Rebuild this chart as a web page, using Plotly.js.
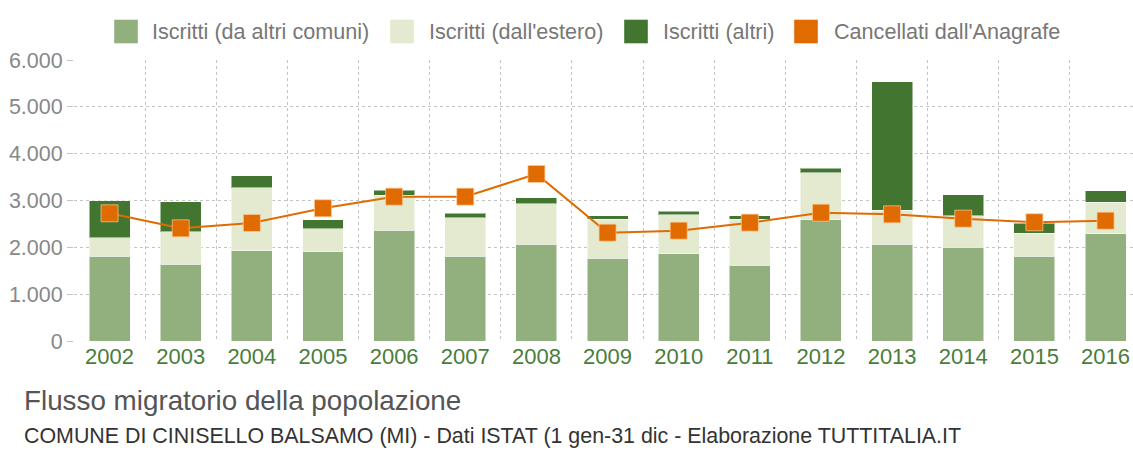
<!DOCTYPE html>
<html>
<head>
<meta charset="utf-8">
<script src="https://cdn.plot.ly/plotly-3.0.1.min.js"></script>
<style>
  html, body { margin: 0; padding: 0; background: #fff; }
  #chart { width: 1133px; height: 450px; }
</style>
</head>
<body>
<div id="chart"></div>
<script>
// ---- data ----
var years = ["2002","2003","2004","2005","2006","2007","2008","2009","2010","2011","2012","2013","2014","2015","2016"];
var iscrittiComuni = [1815,1644,1929,1907,2370,1815,2071,1765,1865,1616,2584,2071,2007,1815,2285];
var iscrittiEstero = [391,690,1345,485,741,818,861,834,826,989,1010,726,669,491,677];
var iscrittiAltri  = [790,641,256,192,113,94,122,77,79,71,94,2740,442,207,247];
var cancellati     = [2727,2406,2520,2834,3082,3082,3566,2313,2356,2527,2740,2705,2612,2535,2569];

var legendLabels = ["Iscritti (da altri comuni)","Iscritti (dall'estero)","Iscritti (altri)","Cancellati dall'Anagrafe"];
var colors = ["#91b07d","#e3eacf","#427630","#e06b00"];

var titleText = "Flusso migratorio della popolazione";
var subtitleText = "COMUNE DI CINISELLO BALSAMO (MI) - Dati ISTAT (1 gen-31 dic - Elaborazione TUTTITALIA.IT";

// ---- layout geometry ----
var W = 1133, H = 450;
var mL = 74, mT = 60, mB = 109, mR = 0;
var plotW = W - mL - mR, plotH = H - mT - mB;
function px(x) { return (x - mL) / plotW; }
function py(y) { return (H - mB - y) / plotH; }

var font = "Liberation Sans, Arial, Helvetica, sans-serif";

var barLine = { color: "rgba(255,255,255,0.5)", width: 1 };
var traces = [
  { type: "bar", x: years, y: iscrittiComuni, name: legendLabels[0], marker: { color: colors[0], line: barLine } },
  { type: "bar", x: years, y: iscrittiEstero, name: legendLabels[1], marker: { color: colors[1], line: barLine } },
  { type: "bar", x: years, y: iscrittiAltri,  name: legendLabels[2], marker: { color: colors[2], line: barLine } },
  { type: "scatter", mode: "lines+markers", x: years, y: cancellati, name: legendLabels[3],
    line: { color: colors[3], width: 2 },
    marker: { symbol: "square", size: 17, color: colors[3], line: { color: "rgba(255,200,150,0.7)", width: 1 } } }
];

// custom legend
var swX = [114, 390, 624, 794];
var txX = [150, 427, 661, 832];
var shapes = [], annotations = [];
for (var i = 0; i < 4; i++) {
  shapes.push({ type: "rect", xref: "paper", yref: "paper",
    x0: px(swX[i]), x1: px(swX[i] + 24), y0: py(43.5), y1: py(19.5),
    fillcolor: colors[i], line: { color: "rgba(255,255,255,0.4)", width: 1 } });
  annotations.push({ xref: "paper", yref: "paper", x: px(txX[i]), y: py(31.5),
    xanchor: "left", yanchor: "middle", showarrow: false, text: legendLabels[i],
    font: { family: font, size: 21.6, color: "#777" } });
}
annotations.push({ xref: "paper", yref: "paper", x: px(22), y: py(400), xanchor: "left", yanchor: "middle",
  showarrow: false, text: titleText, font: { family: font, size: 27.8, color: "#555" } });
annotations.push({ xref: "paper", yref: "paper", x: px(22), y: py(436), xanchor: "left", yanchor: "middle",
  showarrow: false, text: subtitleText, font: { family: font, size: 21.4, color: "#333" } });

var layout = {
  width: W, height: H,
  margin: { l: mL, r: mR, t: mT, b: mB, pad: 0 },
  paper_bgcolor: "#fff", plot_bgcolor: "#fff",
  barmode: "stack", bargap: 0.424,
  showlegend: false,
  separators: ",.",
  font: { family: font },
  xaxis: {
    type: "category", range: [-0.5, 14.386], fixedrange: true,
    tickson: "boundaries", ticks: "", showgrid: true,
    gridcolor: "#c4c4c4", griddash: "3px,3px", gridwidth: 1,
    showline: false, zeroline: false,
    tickfont: { family: font, size: 22, color: "#4a7d3a" }
  },
  yaxis: {
    range: [0, 6000], tickvals: [0,1000,2000,3000,4000,5000,6000], tickformat: ",d",
    showgrid: true, gridcolor: "#c4c4c4", griddash: "3px,3px", gridwidth: 1,
    zeroline: false, showline: false,
    ticks: "outside", ticklen: 6, tickcolor: "#c4c4c4",
    tickfont: { family: font, size: 21.5, color: "#888" }
  },
  shapes: shapes,
  annotations: annotations
};

Plotly.newPlot("chart", traces, layout, { displayModeBar: false, staticPlot: true });
</script>
</body>
</html>
